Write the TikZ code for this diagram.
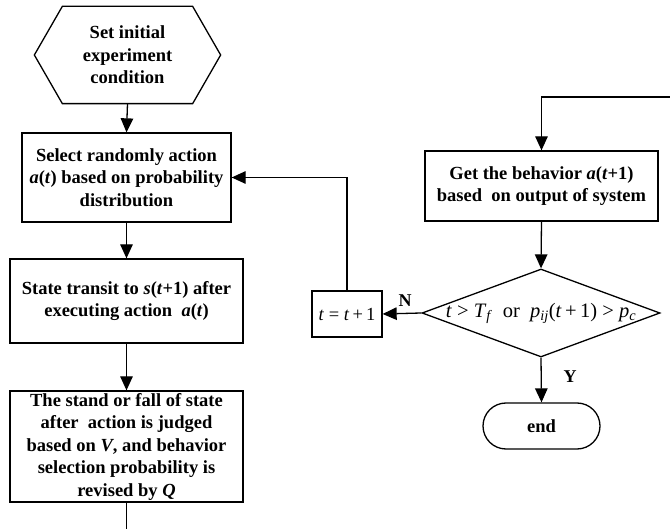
\documentclass[tikz,border=0pt]{standalone}
\usepackage{fontspec}
\setmainfont{Liberation Serif}
\usetikzlibrary{arrows.meta,shapes.geometric,shapes.misc,calc}
\begin{document}
\begin{tikzpicture}[x=1pt,y=-1pt,
  line width=1.3pt,
  bx/.style={draw, rectangle, inner sep=0pt, align=center, font=\bfseries\fontsize{18.5}{22.5}\selectfont},
  arr/.style={-{Triangle[length=14pt,width=12.5pt]}},
  lbl/.style={font=\bfseries\fontsize{18}{20}\selectfont, inner sep=0pt}]
\useasboundingbox (0,0) rectangle (670,529);
% left column
\node[bx, draw=none, minimum width=129pt, minimum height=96pt] (hex) at (127.5,55) {Set initial\\experiment\\condition};
\draw (hex.north west) -- (hex.north east) -- ($(hex.east)+(28,0)$) -- (hex.south east) -- (hex.south west) -- ($(hex.west)+(-28,0)$) -- cycle;
\node[bx, minimum width=209pt, minimum height=89pt] (sel) at (126.5,177.5) {Select randomly action\\\textit{a}(\textit{t}) based on probability\\distribution};
\node[bx, minimum width=233pt, minimum height=84pt] (st) at (126.5,301) {State transit to \textit{s}(\textit{t}+1) after\\executing action\ \ \textit{a}(\textit{t})};
\node[bx, minimum width=233pt, minimum height=111pt] (judge) at (126.5,446.5) {The stand or fall of state\\after\ \ action is judged\\based on \textit{V}, and behavior\\selection probability is\\revised by \textit{Q}};
\coordinate (botout) at (126.5,529);
% right column
\coordinate (topin) at (670,97);
\node[bx, minimum width=233pt, minimum height=70pt] (get) at (541.5,186) {Get the behavior \textit{a}(\textit{t}+1)\\based\ \ on output of system};
\node[draw, diamond, aspect=2.7, minimum width=238pt, minimum height=88pt, inner sep=0pt, font=\fontsize{20.5}{22}\selectfont] (dia) at (541,313)
  {\makebox[0pt]{\textit{t} > \textit{T}\textsubscript{\textit{f}}\ \ or\ \ \textit{p}\textsubscript{\textit{ij}}(\textit{t}\,+\,1) > \textit{p}\textsubscript{\textit{c}}}};
\node[draw, rectangle, inner sep=0pt, minimum width=70pt, minimum height=46pt, font=\fontsize{18.5}{20}\selectfont] (inc) at (347,314) {\textit{t} = \textit{t}\,+\,1};
\node[draw, rounded rectangle, inner sep=0pt, minimum width=117pt, minimum height=46pt, font=\bfseries\fontsize{18.5}{20}\selectfont] (endn) at (541.5,426) {end};
% connectors
\draw[arr] (hex.south) -- (sel.north);
\draw[arr] (sel.south) -- (st.north);
\draw[arr] (st.south) -- (judge.north);
\draw (judge.south) -- (botout);
\draw[arr] (topin) -| (get.north);
\draw[arr] (get.south) -- (dia.north);
\draw[arr] (dia.west) -- (inc.east);
\draw[arr] (dia.south) -- (endn.north);
\draw[arr] (inc.north) |- (sel.east);
\node[lbl] (nlab) at (405,301) {N};
\node[lbl] (ylab) at (570,377) {Y};
\end{tikzpicture}
\end{document}
